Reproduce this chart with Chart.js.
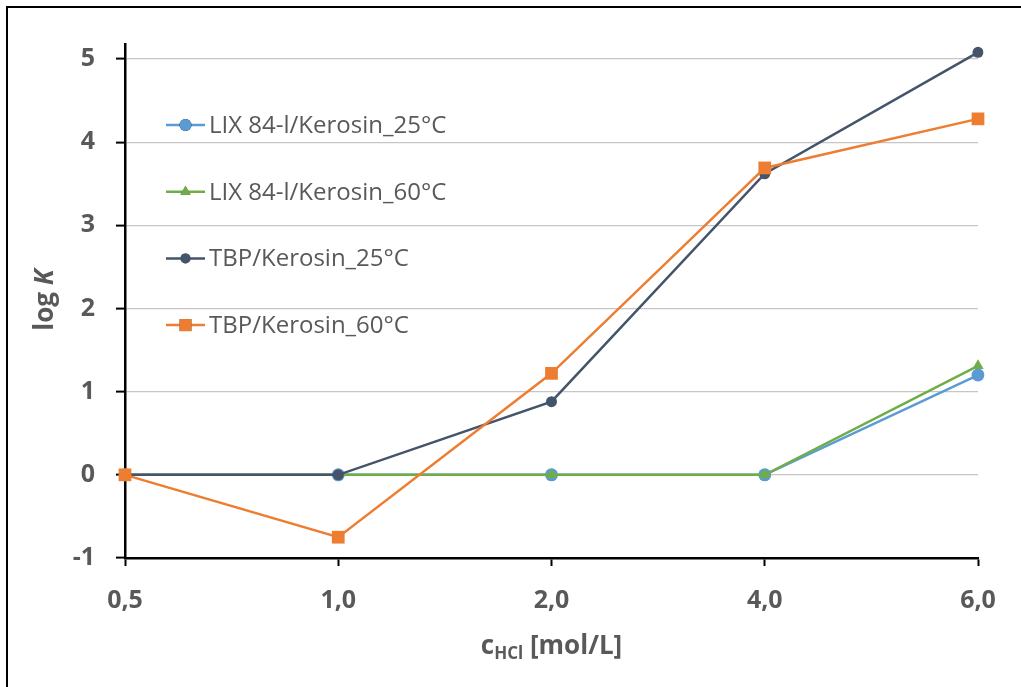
<!DOCTYPE html>
<html>
<head>
<style>
    body {
        margin: 0;
        background: #fff;
        font-family: "Open Sans", Arial, sans-serif;
    }

    #wrap {
        position: relative;
        width: 1021px;
        height: 687px;
    }

    /* frame around the figure (left and top edges only) */
    #frame {
        position: absolute;
        left: 6px;
        top: 6px;
        right: 0;
        bottom: 0;
        border-left: 2.5px solid #000;
        border-top: 2.5px solid #000;
        pointer-events: none;
    }
</style>
</head>
<body>
<div id="wrap">
    <canvas id="chart" width="1021" height="687"></canvas>
    <div id="frame"></div>
</div>

<script src="https://cdn.jsdelivr.net/npm/chart.js"></script>
<script>
    // HCl concentration categories [mol/L]
    const concentrations = ["0,5", "1,0", "2,0", "4,0", "6,0"];

    // log K values per extraction system
    const lix25 = [0, 0, 0, 0, 1.2];
    const lix60 = [0, 0, 0, 0, 1.31];
    const tbp25 = [0, 0, 0.88, 3.62, 5.08];
    const tbp60 = [0, -0.75, 1.22, 3.69, 4.28];

    const seriesNames = [
        "LIX 84-l/Kerosin_25°C",
        "LIX 84-l/Kerosin_60°C",
        "TBP/Kerosin_25°C",
        "TBP/Kerosin_60°C"
    ];

    const yTicks = [-1, 0, 1, 2, 3, 4, 5];

    const textGrey = "#595959";
    const fontFamily = "'Open Sans', Arial, sans-serif";

    // legend + axis titles drawn inside the canvas
    const extrasPlugin = {
        id: "extras",
        afterDraw(chart) {
            const ctx = chart.ctx;
            ctx.save();

            // legend inside the plot, left side
            const legendX = 166, lineLen = 39, firstY = 125, step = 66.7;
            chart.data.datasets.forEach((ds, i) => {
                const y = firstY + i * step;
                ctx.strokeStyle = ds.borderColor;
                ctx.lineWidth = 2.5;
                ctx.beginPath();
                ctx.moveTo(legendX, y);
                ctx.lineTo(legendX + lineLen, y);
                ctx.stroke();

                Chart.helpers.drawPoint(ctx, {
                    pointStyle: ds.pointStyle,
                    radius: ds.legendRadius,
                    rotation: 0,
                    borderWidth: 0
                }, legendX + lineLen / 2, y);
                ctx.fillStyle = ds.backgroundColor;
                ctx.fill();

                ctx.fillStyle = textGrey;
                ctx.font = "24px " + fontFamily;
                ctx.textAlign = "left";
                ctx.textBaseline = "middle";
                ctx.fillText(ds.label, legendX + lineLen + 4, y + 1);
            });

            // y axis title "log K", K in italics
            ctx.save();
            ctx.translate(46, 300);
            ctx.rotate(-Math.PI / 2);
            ctx.fillStyle = textGrey;
            ctx.textBaseline = "middle";
            const partA = "log ";
            const partB = "K";
            ctx.font = "bold 26px " + fontFamily;
            const wA = ctx.measureText(partA).width;
            ctx.font = "italic bold 26px " + fontFamily;
            const wB = ctx.measureText(partB).width;
            let x0 = -(wA + wB) / 2;
            ctx.textAlign = "left";
            ctx.font = "bold 26px " + fontFamily;
            ctx.fillText(partA, x0, 0);
            ctx.font = "italic bold 26px " + fontFamily;
            ctx.fillText(partB, x0 + wA, 0);
            ctx.restore();

            // x axis title c_HCl [mol/L]
            const xs = chart.scales.x;
            const cx = (xs.left + xs.right) / 2;
            const baseY = 654;
            const main1 = "c";
            const sub = "HCl";
            const main2 = " [mol/L]";
            ctx.textBaseline = "alphabetic";
            ctx.textAlign = "left";
            ctx.fillStyle = textGrey;
            ctx.font = "bold 26px " + fontFamily;
            const w1 = ctx.measureText(main1).width;
            const w3 = ctx.measureText(main2).width;
            ctx.font = "bold 17px " + fontFamily;
            const w2 = ctx.measureText(sub).width;
            let sx = cx - (w1 + w2 + w3) / 2;
            ctx.font = "bold 26px " + fontFamily;
            ctx.fillText(main1, sx, baseY);
            ctx.font = "bold 17px " + fontFamily;
            ctx.fillText(sub, sx + w1, baseY + 5);
            ctx.font = "bold 26px " + fontFamily;
            ctx.fillText(main2, sx + w1 + w2, baseY);

            ctx.restore();
        }
    };

    const ctx = document.getElementById("chart").getContext("2d");
    const chart = new Chart(ctx, {
        type: "line",
        data: {
            labels: concentrations,
            datasets: [
                {
                    label: seriesNames[0],
                    data: lix25,
                    borderColor: "#5b9bd5",
                    backgroundColor: "#5b9bd5",
                    pointStyle: "circle",
                    pointRadius: 6.5,
                    legendRadius: 6,
                    order: 4
                },
                {
                    label: seriesNames[1],
                    data: lix60,
                    borderColor: "#70ad47",
                    backgroundColor: "#70ad47",
                    pointStyle: "triangle",
                    pointRadius: 6.5,
                    legendRadius: 6,
                    order: 3
                },
                {
                    label: seriesNames[2],
                    data: tbp25,
                    borderColor: "#44546a",
                    backgroundColor: "#44546a",
                    pointStyle: "circle",
                    pointRadius: 5.5,
                    legendRadius: 5,
                    order: 2
                },
                {
                    label: seriesNames[3],
                    data: tbp60,
                    borderColor: "#ed7d31",
                    backgroundColor: "#ed7d31",
                    pointStyle: "rect",
                    pointRadius: 9,
                    legendRadius: 8.5,
                    order: 1
                }
            ].map(ds => Object.assign({
                borderWidth: 2.5,
                pointBorderWidth: 0,
                pointBackgroundColor: ds.backgroundColor,
                pointBorderColor: ds.backgroundColor,
                tension: 0,
                fill: false
            }, ds))
        },
        options: {
            responsive: false,
            animation: false,
            layout: {
                padding: { left: 0, top: 44, right: 43, bottom: 0 }
            },
            plugins: {
                legend: { display: false },
                tooltip: { enabled: false }
            },
            scales: {
                x: {
                    type: "category",
                    offset: false,
                    afterFit(scale) { scale.height = 129; },
                    grid: {
                        drawOnChartArea: false,
                        drawTicks: true,
                        tickLength: 8,
                        tickColor: "#000",
                        tickWidth: 2
                    },
                    border: { color: "#000", width: 2.5 },
                    ticks: {
                        color: textGrey,
                        padding: 20,
                        maxRotation: 0,
                        font: { family: fontFamily, size: 25, weight: "bold" }
                    }
                },
                y: {
                    min: -1,
                    max: 5.18,
                    afterFit(scale) { scale.width = 125; },
                    afterBuildTicks(scale) {
                        scale.ticks = yTicks.map(v => ({ value: v }));
                    },
                    grid: {
                        color: "#c6c6c6",
                        lineWidth: 1.2,
                        drawTicks: true,
                        tickLength: 9,
                        tickColor: "#000",
                        tickWidth: 2
                    },
                    border: { color: "#000", width: 2.5 },
                    ticks: {
                        color: textGrey,
                        padding: 21,
                        font: { family: fontFamily, size: 25, weight: "bold" }
                    }
                }
            }
        },
        plugins: [extrasPlugin]
    });
</script>
</body>
</html>
